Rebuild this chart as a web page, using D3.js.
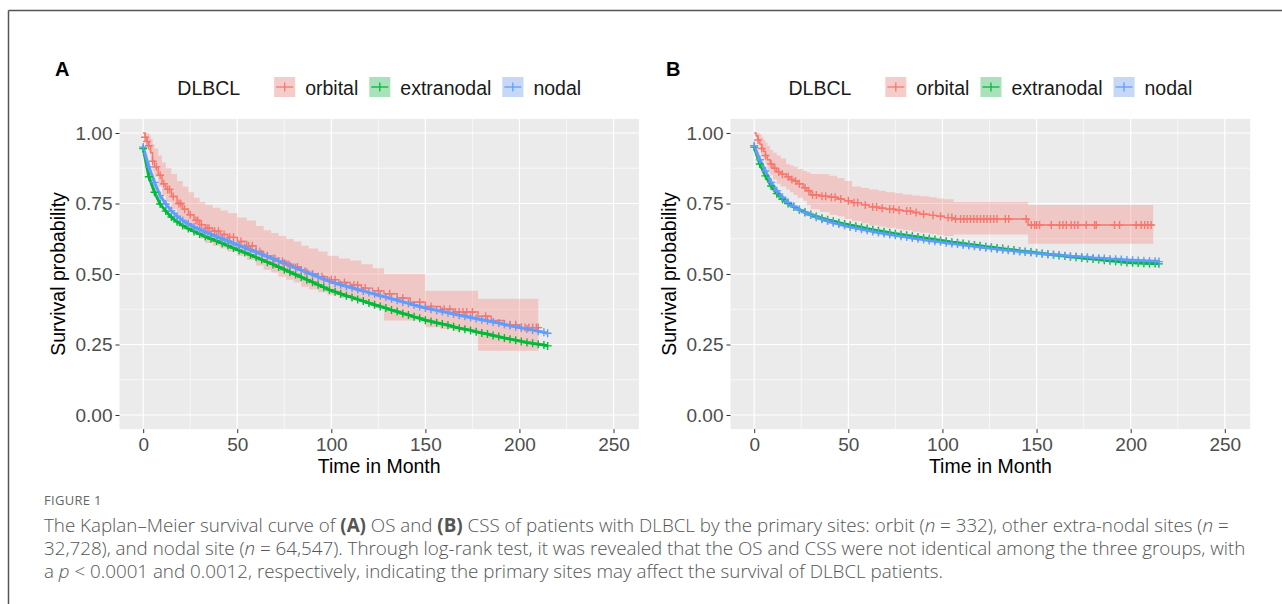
<!DOCTYPE html>
<html>
<head>
<meta charset="utf-8">
<style>
    body { margin: 0; background: #fff; }
    svg { display: block; font-family: 'Liberation Sans', Arial, sans-serif; }
    .axis .domain { display: none; }
    .axis .tick line { stroke: #333; }
    .axis .tick text { fill: #4d4d4d; font-size: 19px; font-family: 'Liberation Sans', Arial, sans-serif; }
    .axis-title { fill: #000; font-size: 19.5px; }
    .legend-text { fill: #1a1a1a; font-size: 19.5px; }
    .panel-label { font-size: 20px; font-weight: bold; fill: #000; }
    .caption { font-family: 'Open Sans', sans-serif; font-weight: 300; fill: #555; }
</style>
</head>
<body>
<svg width="1282" height="604"></svg>

<script src="https://d3js.org/d3.v7.min.js"></script>
<script>
    // ---- data ----
    let groups = ["orbital", "extranodal", "nodal"];
    let colors = ["#F8766D", "#00BA38", "#619CFF"];

    let xTicks = [0, 50, 100, 150, 200, 250];
    let xMinor = [25, 75, 125, 175, 225];
    let yTicks = [0, 0.25, 0.5, 0.75, 1];
    let yMinor = [0.125, 0.375, 0.625, 0.875];

    // months for the two large groups (censor marks are dense along them)
    let months = [0, 3, 6, 9, 12, 15, 18, 21, 24, 27, 30, 33, 36, 39, 42, 45, 48, 51, 54, 57,
        60, 63, 66, 69, 72, 75, 78, 81, 84, 87, 90, 93, 96, 99, 102, 105, 108, 111, 114, 117,
        120, 123, 126, 129, 132, 135, 138, 141, 144, 147, 150, 153, 156, 159, 162, 165, 168, 171, 174, 177,
        180, 183, 186, 189, 192, 195, 198, 201, 204, 207, 210, 213, 215];

    // A: overall survival
    let osNodal = [.950, .880, .825, .778, .748, .724, .705, .690, .678, .667,
        .658, .649, .641, .633, .625, .617, .609, .601, .594, .586,
        .578, .570, .562, .554, .546, .538, .530, .522, .514, .506,
        .498, .490, .482, .474, .468, .462, .456, .451, .445, .440,
        .434, .429, .423, .418, .412, .407, .401, .396, .390, .385,
        .379, .375, .371, .367, .363, .358, .354, .350, .346, .342,
        .338, .334, .330, .326, .321, .317, .313, .309, .305, .301,
        .297, .293, .290];
    let osExtranodal = [.945, .845, .790, .748, .723, .702, .685, .672, .661, .651,
        .642, .633, .625, .617, .609, .601, .592, .584, .576, .568,
        .559, .551, .542, .534, .525, .516, .507, .498, .489, .480,
        .471, .462, .453, .444, .437, .430, .423, .417, .410, .404,
        .397, .391, .385, .379, .372, .367, .360, .355, .348, .343,
        .336, .332, .327, .323, .318, .313, .308, .304, .300, .295,
        .291, .287, .282, .278, .273, .269, .265, .261, .257, .254,
        .251, .248, .245];
    let osOrbitalTime = [0, 1, 2, 3, 4, 5, 6, 8, 10, 12, 15, 18, 21, 24, 27, 30, 33,
        37, 41, 45, 50, 55, 60, 64, 68, 72, 76, 80, 84, 88, 93, 98,
        104, 110, 116, 122, 128, 135, 142, 150, 158, 165, 178, 185, 192, 200, 210];
    let osOrbitalSurv = [1, .985, .97, .955, .93, .9, .88, .85, .82, .8, .775, .75, .73, .71, .69, .675, .662,
        .652, .64, .63, .615, .6, .58, .565, .555, .545, .535, .525, .51, .5, .49, .48,
        .47, .46, .45, .44, .43, .415, .4, .385, .375, .365, .35, .335, .32, .31, .31];
    let osOrbitalUpper = [1, 1, 1, .995, .98, .96, .945, .92, .895, .875, .855, .83, .81, .79, .77, .755, .745,
        .735, .725, .715, .7, .69, .67, .655, .645, .635, .625, .615, .6, .59, .58, .565,
        .555, .548, .535, .52, .5, .5, .5, .441, .441, .441, .412, .412, .412, .412, .412];
    let osOrbitalLower = [1, .97, .95, .93, .9, .865, .845, .81, .78, .755, .73, .705, .68, .66, .64, .625, .61,
        .6, .59, .58, .565, .55, .53, .515, .505, .49, .48, .47, .455, .445, .435, .425,
        .415, .405, .395, .38, .335, .335, .335, .311, .305, .299, .228, .228, .228, .228, .228];
    let osOrbitalCensor = [1, 2, 3, 5, 7, 9, 11, 13, 14, 16, 19, 20, 22, 25, 28, 29, 31, 34, 35, 38, 40,
        43, 46, 48, 52, 56, 58, 62, 66, 70, 74, 77, 82, 86, 90, 95, 100, 102, 107, 112, 114, 118,
        125, 131, 138, 147, 153, 160, 163, 166, 168, 170, 172, 175, 182, 195, 198, 201, 203, 205, 207, 209, 210];

    // B: cancer-specific survival
    let cssNodal = [.955, .905, .865, .825, .795, .772, .754, .740, .728, .718,
        .709, .701, .694, .688, .682, .677, .672, .667, .663, .659,
        .655, .651, .647, .644, .640, .637, .634, .631, .628, .625,
        .622, .619, .616, .614, .611, .608, .606, .603, .601, .598,
        .596, .593, .591, .589, .586, .584, .582, .580, .578, .576,
        .574, .572, .570, .568, .567, .565, .563, .562, .560, .559,
        .557, .556, .555, .553, .552, .551, .550, .549, .548, .547,
        .546, .545, .544];
    let cssExtranodal = [.950, .890, .848, .812, .785, .765, .750, .738, .728, .719,
        .711, .704, .698, .692, .687, .682, .677, .673, .669, .665,
        .661, .657, .653, .650, .646, .643, .640, .637, .634, .631,
        .628, .625, .622, .619, .616, .613, .611, .608, .605, .603,
        .600, .597, .595, .592, .590, .587, .585, .582, .580, .578,
        .575, .573, .570, .568, .566, .564, .561, .559, .557, .555,
        .553, .551, .549, .547, .545, .543, .541, .540, .539, .538,
        .537, .537, .536];
    let cssOrbitalTime = [0, 1, 2, 3, 4, 5, 6, 7, 8.5, 10, 12, 14, 17, 19, 21, 23, 26, 28,
        30, 35, 40, 44, 48, 52, 57, 61, 66, 70, 75, 79, 84, 88, 93, 97, 101, 106, 145.5, 212];
    let cssOrbitalSurv = [1, .99, .975, .96, .945, .935, .92, .905, .89, .875, .862, .854, .845, .835, .83, .82, .806, .795,
        .78, .776, .772, .766, .76, .753, .745, .738, .733, .73, .726, .723, .718, .712, .708, .705, .70, .695, .674, .674];
    let cssOrbitalUpper = [1, 1, 1, .995, .985, .975, .965, .955, .94, .93, .92, .91, .89, .885, .88, .872, .865, .86,
        .855, .854, .848, .84, .83, .81, .805, .80, .795, .79, .786, .782, .778, .776, .772, .768, .765, .755, .745, .745];
    let cssOrbitalLower = [1, .98, .96, .94, .92, .905, .89, .87, .85, .835, .82, .81, .80, .79, .78, .77, .76, .745,
        .73, .72, .71, .705, .695, .688, .68, .672, .668, .664, .66, .655, .65, .646, .642, .638, .635, .64, .607, .607];
    let cssOrbitalCensor = [2, 4, 6, 9, 11, 13, 15, 18, 20, 22, 24, 27, 29, 31, 33, 36, 38, 41, 43, 46, 50, 53, 55,
        59, 63, 65, 68, 72, 74, 77, 81, 83, 86, 90, 95, 99, 103, 105, 107, 109.6, 111.4, 113.1, 114.9, 116.7,
        118.4, 120.2, 122, 123.7, 125.5, 127.3, 129, 133.4, 135.2, 144.5, 147.2, 149, 150, 151.6, 157.8, 162.2,
        164, 165.8, 168.4, 170.2, 172, 176.4, 180.8, 181.7, 191.4, 194.1, 202.9, 205.6, 207.4, 209.1, 210.9];

    let captionLines = [
        [["The Kaplan\u2013Meier survival curve of ", ""], ["(A)", "b"], [" OS and ", ""], ["(B)", "b"],
         [" CSS of patients with DLBCL by the primary sites: orbit (", ""], ["n", "i"], [" = 332), other extra-nodal sites (", ""], ["n", "i"], [" =", ""]],
        [["32,728), and nodal site (", ""], ["n", "i"], [" = 64,547). Through log-rank test, it was revealed that the OS and CSS were not identical among the three groups, with", ""]],
        [["a ", ""], ["p", "i"], [" < 0.0001 and 0.0012, respectively, indicating the primary sites may affect the survival of DLBCL patients.", ""]]
    ];

    // ---- drawing ----
    let svg = d3.select("svg");

    // figure frame (top and left rule)
    svg.append("line").attr("x1", 8.5).attr("x2", 1282).attr("y1", 10.5).attr("y2", 10.5)
        .attr("stroke", "#555").attr("stroke-width", 1.5);
    svg.append("line").attr("x1", 8.5).attr("x2", 8.5).attr("y1", 10.5).attr("y2", 604)
        .attr("stroke", "#555").attr("stroke-width", 1.5);

    let plus = "M-4,0H4M0,-4V4";

    function drawPanel(opt) {
        let x = d3.scaleLinear().domain([0, 250]).range([opt.x0, opt.x250]);
        let y = d3.scaleLinear().domain([0, 1]).range([415, 133]);
        let left = x(-12.6), right = x(263.5), top = y(1.05), bottom = y(-0.05);
        let g = svg.append("g");

        g.append("rect")
            .attr("x", left).attr("y", top)
            .attr("width", right - left).attr("height", bottom - top)
            .attr("fill", "#EBEBEB");

        // grid
        g.selectAll(".gxm").data(xMinor).join("line")
            .attr("x1", d => x(d)).attr("x2", d => x(d)).attr("y1", top).attr("y2", bottom)
            .attr("stroke", "#fff").attr("stroke-width", 0.6);
        g.selectAll(".gym").data(yMinor).join("line")
            .attr("y1", d => y(d)).attr("y2", d => y(d)).attr("x1", left).attr("x2", right)
            .attr("stroke", "#fff").attr("stroke-width", 0.6);
        g.selectAll(".gx").data(xTicks).join("line")
            .attr("x1", d => x(d)).attr("x2", d => x(d)).attr("y1", top).attr("y2", bottom)
            .attr("stroke", "#fff").attr("stroke-width", 1.2);
        g.selectAll(".gy").data(yTicks).join("line")
            .attr("y1", d => y(d)).attr("y2", d => y(d)).attr("x1", left).attr("x2", right)
            .attr("stroke", "#fff").attr("stroke-width", 1.2);

        // axes
        g.append("g").attr("class", "axis")
            .attr("transform", `translate(${left},0)`)
            .call(d3.axisLeft(y).tickValues(yTicks).tickSize(4).tickPadding(3).tickFormat(d3.format(".2f")));
        g.append("g").attr("class", "axis")
            .attr("transform", `translate(0,${bottom})`)
            .call(d3.axisBottom(x).tickValues(xTicks).tickSize(4).tickPadding(4).tickFormat(d3.format("d")));

        g.append("text").attr("class", "axis-title")
            .attr("x", (left + right) / 2).attr("y", 473)
            .attr("text-anchor", "middle").text("Time in Month");
        g.append("text").attr("class", "axis-title")
            .attr("transform", `translate(${left - 54.5},${(top + bottom) / 2}) rotate(-90)`)
            .attr("text-anchor", "middle").text("Survival probability");

        g.append("text").attr("class", "panel-label")
            .attr("x", left - 64.5).attr("y", 76).text(opt.label);

        // orbital confidence band
        let ribbon = opt.orbital.time.map((t, i) => [t, opt.orbital.lower[i], opt.orbital.upper[i]]);
        g.append("path")
            .datum(ribbon)
            .attr("d", d3.area().curve(d3.curveStepAfter)
                .x(d => x(d[0])).y0(d => y(d[1])).y1(d => y(d[2])))
            .attr("fill", colors[0]).attr("fill-opacity", 0.3);

        let line = d3.line().x(d => x(d[0])).y(d => y(d[1]));
        let series = [
            { pts: opt.orbital.time.map((t, i) => [t, opt.orbital.surv[i]]), step: true },
            { pts: months.map((t, i) => [t, opt.extranodal[i]]), step: false },
            { pts: months.map((t, i) => [t, opt.nodal[i]]), step: false }
        ];
        series.forEach((s, k) => {
            g.append("path").datum(s.pts)
                .attr("d", line.curve(s.step ? d3.curveStepAfter : d3.curveLinear))
                .attr("fill", "none").attr("stroke", colors[k]).attr("stroke-width", k ? 3 : 1.4);
        });

        // censor marks
        let orbitalAt = t => opt.orbital.surv[d3.bisectRight(opt.orbital.time, t) - 1];
        let marks = [
            opt.orbital.censor.map(t => [t, orbitalAt(t)]),
            series[1].pts,
            series[2].pts
        ];
        marks.forEach((m, k) => {
            g.append("g").selectAll("path").data(m).join("path")
                .attr("transform", d => `translate(${x(d[0])},${y(d[1])})`)
                .attr("d", plus)
                .attr("stroke", colors[k]).attr("stroke-width", 1.4).attr("fill", "none");
        });

        // legend, centred above the panel
        let lg = g.append("g");
        let cx = 0;
        lg.append("text").attr("class", "legend-text").attr("x", cx).attr("y", 95).text("DLBCL");
        cx += lg.select("text").node().getComputedTextLength() + 34;
        groups.forEach((name, k) => {
            lg.append("rect").attr("x", cx).attr("y", 77).attr("width", 21).attr("height", 20).attr("fill", "#F2F2F2");
            lg.append("rect").attr("x", cx).attr("y", 77).attr("width", 21).attr("height", 20)
                .attr("fill", colors[k]).attr("fill-opacity", 0.3);
            lg.append("line").attr("x1", cx + 2).attr("x2", cx + 19).attr("y1", 87).attr("y2", 87)
                .attr("stroke", colors[k]).attr("stroke-width", 1.3);
            lg.append("line").attr("x1", cx + 10.5).attr("x2", cx + 10.5).attr("y1", 82.5).attr("y2", 91.5)
                .attr("stroke", colors[k]).attr("stroke-width", 1.3);
            cx += 31;
            let t = lg.append("text").attr("class", "legend-text").attr("x", cx).attr("y", 95).text(name);
            cx += t.node().getComputedTextLength() + (k < 2 ? 11 : 0);
        });
        lg.attr("transform", `translate(${(left + right) / 2 - cx / 2},0)`);
    }

    drawPanel({
        label: "A", x0: 143.2, x250: 613.5,
        nodal: osNodal, extranodal: osExtranodal,
        orbital: { time: osOrbitalTime, surv: osOrbitalSurv, upper: osOrbitalUpper, lower: osOrbitalLower, censor: osOrbitalCensor }
    });
    drawPanel({
        label: "B", x0: 754.2, x250: 1224.8,
        nodal: cssNodal, extranodal: cssExtranodal,
        orbital: { time: cssOrbitalTime, surv: cssOrbitalSurv, upper: cssOrbitalUpper, lower: cssOrbitalLower, censor: cssOrbitalCensor }
    });

    // caption
    svg.append("text")
        .attr("x", 44).attr("y", 505)
        .style("font-family", "'Open Sans', sans-serif").style("font-weight", 400)
        .attr("font-size", 13).attr("letter-spacing", 0.3).style("fill", "#666")
        .text("FIGURE 1");

    let capText = captionLines.map((segs, i) => {
        let t = svg.append("text").attr("class", "caption")
            .attr("x", 44).attr("y", 532 + i * 23).attr("font-size", 16);
        segs.forEach(s => {
            t.append("tspan").text(s[0])
                .attr("font-weight", s[1] === "b" ? "bold" : null)
                .attr("font-style", s[1] === "i" ? "italic" : null);
        });
        return t;
    });
    let fit = 1202 / capText[1].node().getComputedTextLength();
    capText.forEach(t => t.attr("font-size", 16 * fit));
</script>
</body>
</html>
